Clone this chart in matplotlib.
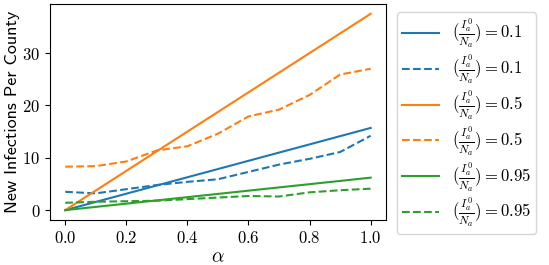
import numpy as np
import matplotlib
matplotlib.use('Agg')
import matplotlib.pyplot as plt

plt.rcParams['mathtext.fontset'] = 'cm'
plt.rcParams['font.family'] = 'serif'
plt.rcParams['font.serif'] = ['cmr10']
plt.rcParams['axes.formatter.use_mathtext'] = True

# alpha values
alpha = [0.0, 0.1, 0.2, 0.3, 0.4, 0.5, 0.6, 0.7, 0.8, 0.9, 1.0]

# solid lines
blue_solid = [0.0, 1.57, 3.14, 4.71, 6.28, 7.85, 9.42, 10.99, 12.56, 14.13, 15.7]
orange_solid = [0.0, 3.75, 7.5, 11.25, 15.0, 18.75, 22.5, 26.25, 30.0, 33.75, 37.5]
green_solid = [0.0, 0.62, 1.24, 1.86, 2.48, 3.1, 3.72, 4.34, 4.96, 5.58, 6.2]

# dashed lines
blue_dash = [3.5, 3.2, 4.0, 4.8, 5.4, 5.9, 7.3, 8.7, 9.8, 11.1, 14.2]
orange_dash = [8.3, 8.4, 9.3, 11.4, 12.2, 14.6, 17.9, 19.2, 22.0, 25.9, 27.0]
green_dash = [1.4, 1.6, 1.7, 1.8, 2.1, 2.4, 2.7, 2.6, 3.4, 3.8, 4.1]

labels = [r'$(\frac{I_a^0}{N_a}) = 0.1$', r'$(\frac{I_a^0}{N_a}) = 0.1$',
          r'$(\frac{I_a^0}{N_a}) = 0.5$', r'$(\frac{I_a^0}{N_a}) = 0.5$',
          r'$(\frac{I_a^0}{N_a}) = 0.95$', r'$(\frac{I_a^0}{N_a}) = 0.95$']

fig = plt.figure(figsize=(5.49, 2.65), dpi=100)
ax = fig.add_axes([0.091, 0.17, 0.612, 0.815])

ax.plot(alpha, blue_solid, color='C0', label=labels[0])
ax.plot(alpha, blue_dash, color='C0', linestyle='--', label=labels[1])
ax.plot(alpha, orange_solid, color='C1', label=labels[2])
ax.plot(alpha, orange_dash, color='C1', linestyle='--', label=labels[3])
ax.plot(alpha, green_solid, color='C2', label=labels[4])
ax.plot(alpha, green_dash, color='C2', linestyle='--', label=labels[5])

ax.set_xlabel(r'$\alpha$', fontsize=14, labelpad=2)
ax.set_ylabel('New Infections Per County', fontsize=13, family='cmss10', labelpad=2)
ax.tick_params(labelsize=12)

ax.legend(loc='upper left', bbox_to_anchor=(1.033, 0.962), fontsize=12,
          labelspacing=0.16, borderpad=0.3, borderaxespad=0, handlelength=2.2)

fig.savefig('out.png', dpi=100)
